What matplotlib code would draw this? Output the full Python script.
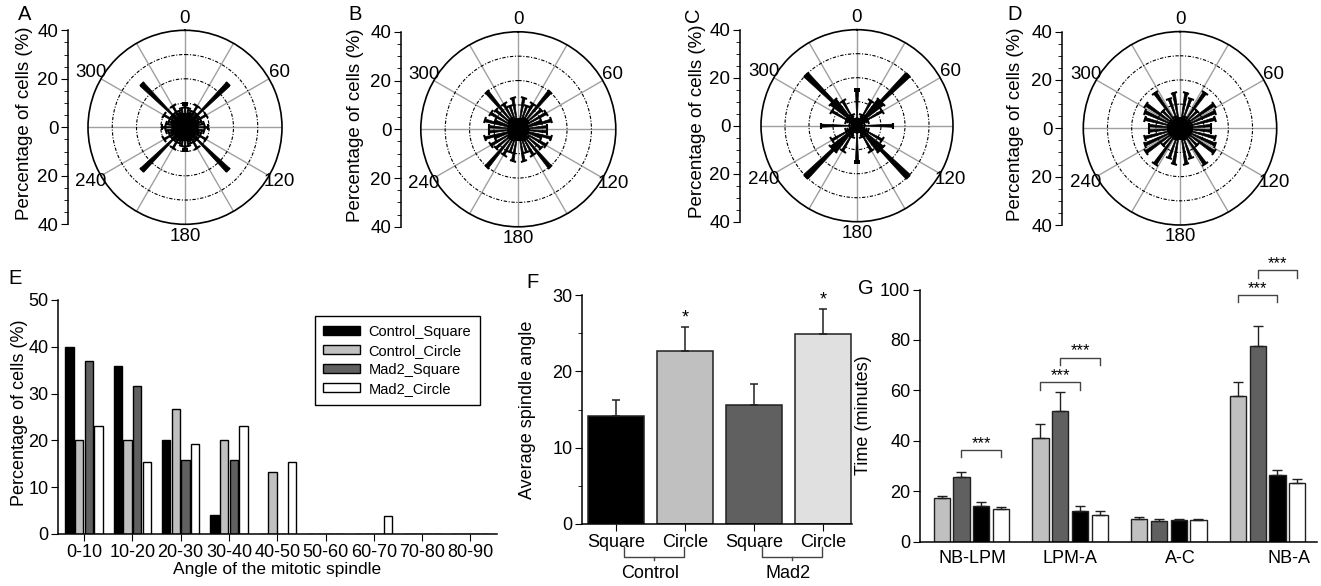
import numpy as np
import matplotlib.pyplot as plt
from matplotlib.markers import MarkerStyle
from matplotlib.transforms import Affine2D, blended_transform_factory
from matplotlib.ticker import MultipleLocator

plt.rcParams['font.family'] = ['Liberation Sans', 'DejaVu Sans']
plt.rcParams['font.size'] = 13
plt.rcParams['axes.linewidth'] = 1.1
plt.rcParams['xtick.direction'] = 'out'
plt.rcParams['ytick.direction'] = 'out'

# --- data ---
# rose diagrams A-D: % of cells per 5 deg bin, one quadrant 0..90 (mirrored to 360)
rose_step = 5
rose_A = [9.5, 5, 8, 5, 7, 6, 10, 5, 7, 25, 7, 5, 10, 6, 7, 5, 8, 5, 9.5]
rose_B = [3, 4, 13, 4, 10, 4, 12, 5, 20, 5, 12, 4, 13, 4, 10, 14, 4, 12, 3]
rose_C = [15, 2, 0, 0, 3, 5, 12, 4, 14, 30, 14, 4, 12, 5, 3, 0, 0, 2, 15]
rose_D = [4, 3, 15, 4, 13, 5, 3, 18, 4, 10, 4, 17, 5, 16, 4, 15, 4, 13, 5]
roses = [rose_A, rose_B, rose_C, rose_D]
rose_letters = ['A', 'B', 'C', 'D']
rose_theta_ticks = ['0', '', '60', '', '120', '', '180', '', '240', '', '300', '']

# E: histogram of spindle angle
bins_E = ['0-10', '10-20', '20-30', '30-40', '40-50', '50-60', '60-70', '70-80', '80-90']
ctrl_square = [40, 36, 20, 4, 0, 0, 0, 0, 0]
ctrl_circle = [20, 20, 26.7, 20, 13.3, 0, 0, 0, 0]
mad2_square = [37, 31.6, 15.8, 15.8, 0, 0, 0, 0, 0]
mad2_circle = [23, 15.4, 19.2, 23, 15.4, 0, 3.8, 0, 0]
series_E = ['Control_Square', 'Control_Circle', 'Mad2_Square', 'Mad2_Circle']

# F: average spindle angle
shapes_F = ['Square', 'Circle', 'Square', 'Circle']
mean_F = [14.1, 22.6, 15.6, 24.9]
err_F = [2.1, 3.2, 2.7, 3.3]
star_F = ['', '*', '', '*']
groups_F = ['Control', 'Mad2']

# G: timing of mitotic phases
phases_G = ['NB-LPM', 'LPM-A', 'A-C', 'NB-A']
g_ctrl_circle = [17.2, 41.0, 9.1, 57.7]
g_ctrl_circle_err = [1.0, 5.5, 0.55, 5.5]
g_mad2_square = [25.5, 52.0, 8.3, 77.6]
g_mad2_square_err = [2.1, 7.4, 0.6, 7.9]
g_ctrl_square = [14.3, 12.2, 8.5, 26.3]
g_ctrl_square_err = [1.3, 2.1, 0.4, 2.1]
g_mad2_circle = [13.0, 10.4, 8.6, 23.4]
g_mad2_circle_err = [0.6, 1.6, 0.4, 1.3]
# (phase, first bar, second bar, bracket height)
sig_G = [(0, 1, 3, 36.4), (1, 0, 2, 63.2), (1, 1, 3, 73.0), (3, 0, 2, 97.9), (3, 1, 3, 107.7)]

W, H = 1321, 586
fig = plt.figure(figsize=(W / 100, H / 100), dpi=100)


def px_axes(left, top, right, bottom, **kw):
    return fig.add_axes([left / W, 1 - bottom / H, (right - left) / W, (bottom - top) / H], **kw)


def ftext(x, y, s, **kw):
    fig.text(x / W, 1 - y / H, s, **kw)


# --- A-D rose diagrams ---
rose_pos = [(185, 127.3, 97), (518.3, 129.3, 97.5), (857, 125.7, 96), (1180, 128.3, 96.7)]
spine_x = [68, 401, 740, 1062]
label_x = [25, 355, 697, 1015]

ang = np.arange(0, 360, rose_step)
a180 = ang % 180
fold = np.where(a180 > 90, 180 - a180, a180) // rose_step

for k, quad in enumerate(roses):
    cx, cy, r = rose_pos[k]
    ax = px_axes(cx - r, cy - r, cx + r, cy + r, projection='polar')
    ax.set_theta_zero_location('N')
    ax.set_theta_direction(-1)
    ax.set_ylim(0, 40)
    ax.set_axisbelow(True)
    vals = np.array(quad, dtype=float)[fold]
    th = np.deg2rad(ang)
    ax.bar(th, vals, width=np.deg2rad(5), color='black', edgecolor='black', lw=0.5)
    for d, t, v in zip(ang, th, vals):
        if v > 0:
            ax.plot([t], [v], ls='none', color='black', ms=4.5, mew=1.5,
                    marker=MarkerStyle('_', transform=Affine2D().rotate_deg(-d)))
    ax.set_thetagrids(range(0, 360, 30), labels=rose_theta_ticks)
    ax.set_rgrids([10, 20, 30], labels=[])
    ax.xaxis.grid(True, color='#a0a0a0', lw=1, ls='-')
    ax.yaxis.grid(True, color='black', lw=0.8, ls=(0, (3, 1.5, 1, 1.5)))
    ax.spines['polar'].set_linewidth(1.2)
    ax.tick_params(axis='x', labelsize=13.5, pad=-2)

    axr = px_axes(spine_x[k], cy - r, spine_x[k] + 1, cy + r)
    axr.patch.set_visible(False)
    for s in ['top', 'right', 'bottom']:
        axr.spines[s].set_visible(False)
    axr.set_xticks([])
    axr.set_ylim(-40, 40)
    axr.set_yticks([-40, -20, 0, 20, 40])
    axr.set_yticklabels(['40', '20', '0', '20', '40'])
    axr.yaxis.set_minor_locator(MultipleLocator(5))
    axr.tick_params(axis='y', length=5, pad=2, labelsize=13.5)
    axr.tick_params(axis='y', which='minor', length=3)
    ftext(label_x[k], cy - 4, 'Percentage of cells (%)', rotation=90, ha='center', va='center',
          fontsize=13.5)
    if rose_letters[k] == 'C':
        ftext(693, 15, 'C', rotation=90, ha='center', va='center', fontsize=14.5)
    else:
        ftext(label_x[k], 15, rose_letters[k], ha='center', va='center', fontsize=14.5)

# --- E ---
axE = px_axes(58, 300, 497, 534)
xE = np.arange(len(bins_E))
colors4 = ['black', '#c0c0c0', '#606060', 'white']
offs = [-0.3, -0.1, 0.1, 0.3]
for vals, c, o, name in zip([ctrl_square, ctrl_circle, mad2_square, mad2_circle], colors4, offs, series_E):
    axE.bar(xE + o, vals, width=0.17, color=c, edgecolor='black', lw=1, label=name)
axE.set_xlim(-0.54, 8.55)
axE.set_ylim(0, 50)
axE.set_yticks(range(0, 51, 10))
axE.set_xticks(xE)
axE.set_xticklabels(bins_E)
axE.tick_params(length=5, pad=2)
axE.spines['top'].set_visible(False)
axE.spines['right'].set_visible(False)
axE.set_xlabel('Angle of the mitotic spindle', labelpad=1, fontsize=12.5)
axE.legend(loc='upper right', bbox_to_anchor=(0.961, 0.932), fontsize=10.5, frameon=True,
           fancybox=False, edgecolor='black', framealpha=1, handlelength=2.5, handleheight=0.55,
           handletextpad=0.6, labelspacing=0.35, borderpad=0.6, borderaxespad=0)
axE.get_legend().get_frame().set_linewidth(1)
ftext(20, 413, 'Percentage of cells (%)', rotation=90, ha='center', va='center')
ftext(15, 278, 'E', ha='center', va='center', fontsize=14.5)

# --- F ---
axF = px_axes(582, 295, 852, 524)
xF = np.arange(len(shapes_F))
axF.bar(xF, mean_F, width=0.81, color=['black', '#c0c0c0', '#606060', '#e0e0e0'],
        edgecolor='#202020', lw=1.1)
axF.errorbar(xF, mean_F, yerr=[np.zeros(4), err_F], fmt='none', ecolor='#202020',
             elinewidth=1.1, capsize=3, capthick=1.1)
for x, m, e, s in zip(xF, mean_F, err_F, star_F):
    if s:
        axF.text(x, m + e + 0.6, s, ha='center', va='baseline', fontsize=13)
axF.set_xlim(-0.49, 3.42)
axF.set_ylim(0, 30)
axF.set_yticks([0, 10, 20, 30])
axF.yaxis.set_minor_locator(MultipleLocator(5))
axF.set_xticks(xF)
axF.set_xticklabels(shapes_F)
axF.tick_params(length=5, pad=2)
axF.tick_params(which='minor', length=3)
axF.spines['top'].set_visible(False)
axF.spines['right'].set_visible(False)
trF = blended_transform_factory(axF.transData, axF.transAxes)
for g, name in enumerate(groups_F):
    x0 = 2 * g + 0.12
    x1 = 2 * g + 0.99
    xm = 2 * g + 0.55
    axF.plot([x0, x0, x1, x1], [-0.099, -0.143, -0.143, -0.099], color='#444444', lw=1,
             transform=trF, clip_on=False)
    axF.plot([xm, xm], [-0.143, -0.158], color='#444444', lw=1, transform=trF, clip_on=False)
    axF.text(xm - 0.05, -0.214, name, ha='center', va='center', transform=trF)
ftext(527, 410, 'Average spindle angle', rotation=90, ha='center', va='center')
ftext(532, 282, 'F', ha='center', va='center', fontsize=14.5)

# --- G ---
axG = px_axes(920, 289.5, 1317, 541.7)
xG = np.arange(len(phases_G))
g_vals = [g_ctrl_circle, g_mad2_square, g_ctrl_square, g_mad2_circle]
g_errs = [g_ctrl_circle_err, g_mad2_square_err, g_ctrl_square_err, g_mad2_circle_err]
g_cols = ['#c0c0c0', '#606060', 'black', 'white']
for vals, errs, c, o in zip(g_vals, g_errs, g_cols, offs):
    axG.bar(xG + o, vals, width=0.163, color=c, edgecolor='#202020', lw=1)
    axG.errorbar(xG + o, vals, yerr=[np.zeros(4), errs], fmt='none', ecolor='#202020',
                 elinewidth=1, capsize=3.5, capthick=1)
for p, i, j, y in sig_G:
    xa = p + offs[i]
    xb = p + offs[j]
    axG.plot([xa, xa, xb, xb], [y - 3, y, y, y - 3], color='#444444', lw=1, clip_on=False)
    axG.text((xa + xb) / 2, y + 0.8, '***', ha='center', va='baseline', fontsize=12, clip_on=False)
axG.set_xlim(-0.52, 3.5)
axG.set_ylim(0, 100)
axG.set_yticks(range(0, 101, 20))
axG.set_xticks([0.01, 1.0, 2.12, 3.22])
axG.set_xticklabels(phases_G)
axG.tick_params(axis='x', length=0, pad=6)
axG.tick_params(axis='y', length=5, pad=2)
axG.spines['top'].set_visible(False)
axG.spines['right'].set_visible(False)
axG.set_ylabel('Time (minutes)', labelpad=6)
ftext(866, 289, 'G', ha='center', va='center', fontsize=14.5)

fig.savefig('out.png', dpi=100)
